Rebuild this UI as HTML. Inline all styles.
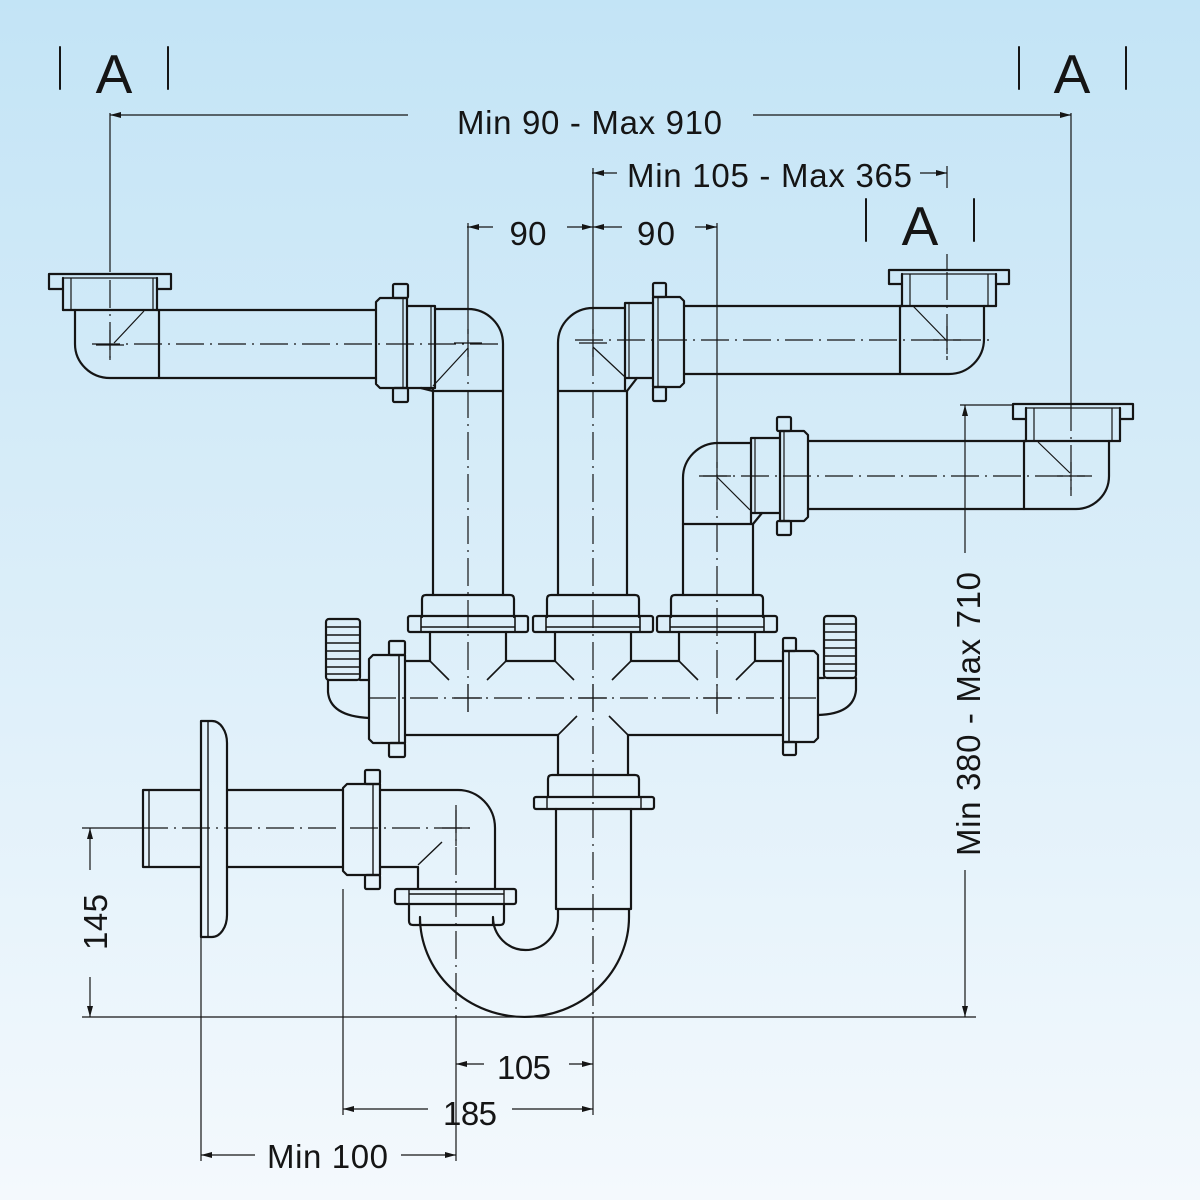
<!DOCTYPE html>
<html>
<head>
<meta charset="utf-8">
<style>
  html,body{margin:0;padding:0;width:1200px;height:1200px;overflow:hidden;}
  svg{display:block;}
  .o{fill:none;stroke:#151515;stroke-width:2.2;stroke-linejoin:round;stroke-linecap:round;}
  .t{fill:none;stroke:#151515;stroke-width:1.2;stroke-linecap:butt;}
  .c{fill:none;stroke:#151515;stroke-width:1.2;stroke-dasharray:28 6 2 6;}
  .a{fill:#151515;stroke:none;}
  text{font-family:"Liberation Sans",Arial,sans-serif;fill:#151515;}
</style>
</head>
<body>
<svg width="1200" height="1200" viewBox="0 0 1200 1200" xmlns="http://www.w3.org/2000/svg">
  <defs>
    <linearGradient id="bg" x1="0" y1="0" x2="0" y2="1">
      <stop offset="0" stop-color="#c3e4f6"/>
      <stop offset="0.5" stop-color="#dbeef9"/>
      <stop offset="1" stop-color="#f4f9fd"/>
    </linearGradient>
  </defs>
  <rect x="0" y="0" width="1200" height="1200" fill="url(#bg)"/>

  <!-- ===== Section markers A ===== -->
  <g class="o" style="stroke-width:2">
    <line x1="60" y1="47" x2="60" y2="89"/>
    <line x1="168" y1="47" x2="168" y2="89"/>
    <line x1="1019" y1="47" x2="1019" y2="89"/>
    <line x1="1126" y1="47" x2="1126" y2="89"/>
    <line x1="866" y1="199" x2="866" y2="241"/>
    <line x1="974" y1="199" x2="974" y2="241"/>
  </g>
  <text x="114" y="93" font-size="55" text-anchor="middle">A</text>
  <text x="1072" y="93" font-size="55" text-anchor="middle">A</text>
  <text x="920" y="245" font-size="55" text-anchor="middle">A</text>

  <!-- ===== Top dimensions ===== -->
  <g class="t">
    <line x1="110" y1="115" x2="408" y2="115"/>
    <line x1="753" y1="115" x2="1071" y2="115"/>
    <line x1="110" y1="113" x2="110" y2="272"/>
    <line x1="1071" y1="113" x2="1071" y2="403"/>

    <line x1="592" y1="173" x2="617" y2="173"/>
    <line x1="920" y1="173" x2="947" y2="173"/>
    <line x1="947" y1="166" x2="947" y2="188"/>
    <line x1="947" y1="254" x2="947" y2="270"/>
    <line x1="593" y1="168" x2="593" y2="306"/>

    <line x1="467" y1="227" x2="493" y2="227"/>
    <line x1="567" y1="227" x2="622" y2="227"/>
    <line x1="695" y1="227" x2="717" y2="227"/>
    <line x1="468" y1="223" x2="468" y2="306"/>
    <line x1="717" y1="223" x2="717" y2="440"/>
  </g>
  <g class="a">
    <polygon points="110,115 121,112 121,118"/>
    <polygon points="1071,115 1060,112 1060,118"/>
    <polygon points="593,173 604,170 604,176"/>
    <polygon points="947,173 936,170 936,176"/>
    <polygon points="468,227 479,224 479,230"/>
    <polygon points="593,227 582,224 582,230"/>
    <polygon points="593,227 604,224 604,230"/>
    <polygon points="717,227 706,224 706,230"/>
  </g>
  <text x="589.5" y="134" font-size="33" text-anchor="middle" textLength="265" lengthAdjust="spacing">Min 90 - Max 910</text>
  <text x="769.5" y="187" font-size="33" text-anchor="middle" textLength="285" lengthAdjust="spacing">Min 105 - Max 365</text>
  <text x="528" y="245" font-size="33" text-anchor="middle" textLength="37" lengthAdjust="spacing">90</text>
  <text x="656" y="245" font-size="33" text-anchor="middle" textLength="38" lengthAdjust="spacing">90</text>

  <!-- ===== Upper-left basin branch ===== -->
  <g class="o">
    <path d="M63,289 H49 V274 H171 V289 H157"/>
    <path d="M63,278 V310 M157,278 V310"/>
    <path d="M63,310 H157"/>
    <path d="M75,310 V344 A35,34 0 0 0 110,378 H376"/>
    <path d="M157,310 H376"/>
    <path d="M159,310 V378"/>
    <!-- nut -->
    <path d="M380,298 H407 V388 H380 L376,384 V302 Z"/>
    <rect x="393" y="284" width="15" height="14" rx="1.5"/>
    <rect x="393" y="388" width="15" height="14" rx="1.5"/>
    <!-- socket -->
    <path d="M407,306 H435 V388 H407"/>
    <path d="M421,388 L433,391"/>
    <!-- elbow -->
    <path d="M435,309 H468 A35,35 0 0 1 503,344 V595"/>
    <path d="M433,388 V595"/>
    <path d="M433,391 H503"/>
  </g>
  <g class="t">
    <path d="M63,278 H157 M71,278 V310 M153,278 V310"/>
    <path d="M114,343 L144,311"/>
    <path d="M403,298 V388"/>
    <path d="M431,306 V388"/>
    <path d="M433,386 L468,348"/>
  </g>

  <!-- ===== Upper-right basin branch ===== -->
  <g class="o">
    <path d="M902,284 H889 V270 H1009 V284 H996"/>
    <path d="M902,274 V306 M996,274 V306"/>
    <path d="M900,306 H996"/>
    <path d="M984,306 V339 A35,35 0 0 1 949,374 H684"/>
    <path d="M684,306 H902"/>
    <path d="M900,306 V374"/>
    <!-- nut -->
    <path d="M653,297 H680 L684,301 V383 L680,387 H653 Z"/>
    <rect x="653" y="283" width="13" height="14" rx="1.5"/>
    <rect x="653" y="387" width="13" height="14" rx="1.5"/>
    <!-- socket -->
    <path d="M653,303 H625 V391 M625,378 H653"/>
    <path d="M627,391 L637,378"/>
    <!-- elbow -->
    <path d="M627,391 H558 V343 A35,35 0 0 1 593,308 H625"/>
    <path d="M558,391 V595 M627,391 V595"/>
  </g>
  <g class="t">
    <path d="M902,274 H996 M910,274 V306 M988,274 V306"/>
    <path d="M913,306 L946,340"/>
    <path d="M658,297 V387"/>
    <path d="M629,303 V378"/>
    <path d="M593,347 L625,377"/>
  </g>

  <!-- ===== Lower-right basin branch ===== -->
  <g class="o">
    <path d="M1026,419 H1013 V404 H1133 V419 H1120"/>
    <path d="M1026,408 V441 M1120,408 V441"/>
    <path d="M1024,441 H1120"/>
    <path d="M1109,441 V476 A33,33 0 0 1 1076,509 H808"/>
    <path d="M808,441 H1026"/>
    <path d="M1024,441 V509"/>
    <!-- nut -->
    <path d="M780,431 H804 L808,435 V517 L804,521 H780 Z"/>
    <rect x="777" y="417" width="14" height="14" rx="1.5"/>
    <rect x="777" y="521" width="14" height="14" rx="1.5"/>
    <!-- socket -->
    <path d="M780,438 H751 V524 M751,513 H780"/>
    <path d="M753,524 L762,513"/>
    <!-- elbow -->
    <path d="M753,524 H683 V478 A35,35 0 0 1 718,443 H751"/>
    <path d="M683,524 V595 M753,524 V595"/>
  </g>
  <g class="t">
    <path d="M1026,408 H1120 M1034,408 V441 M1112,408 V441"/>
    <path d="M1038,442 L1070,473"/>
    <path d="M784,431 V521"/>
    <path d="M755,438 V513"/>
    <path d="M717,477 L750,510"/>
    <!-- 380-710 extension -->
    <line x1="960" y1="405" x2="1012" y2="405"/>
    <line x1="965" y1="405" x2="965" y2="553"/>
    <line x1="965" y1="870" x2="965" y2="1017"/>
  </g>
  <g class="a">
    <polygon points="965,405 962,416 968,416"/>
    <polygon points="965,1017 962,1006 968,1006"/>
  </g>
  <text transform="translate(980,714) rotate(-90)" x="0" y="0" font-size="33" text-anchor="middle" textLength="284" lengthAdjust="spacing">Min 380 - Max 710</text>

  <!-- ===== Manifold ===== -->
  <g class="o">
    <!-- couplings -->
    <path d="M422,617 V599 Q422,595 426,595 H510 Q514,595 514,599 V617"/>
    <rect x="408" y="616" width="120" height="16" rx="2"/>
    <path d="M547,617 V599 Q547,595 551,595 H635 Q639,595 639,599 V617"/>
    <rect x="533" y="616" width="120" height="16" rx="2"/>
    <path d="M671,617 V599 Q671,595 675,595 H759 Q763,595 763,599 V617"/>
    <rect x="657" y="616" width="120" height="16" rx="2"/>
    <!-- necks -->
    <path d="M430,632 V661 M506,632 V661 M555,632 V661 M631,632 V661 M679,632 V661 M755,632 V661"/>
    <path d="M405,661 H430 M506,661 H555 M631,661 H679 M755,661 H783"/>
    <path d="M405,735 H558 M628,735 H783"/>
    <path d="M558,735 V775 M628,735 V775"/>
    <!-- side nuts -->
    <path d="M373,655 H405 V743 H373 L369,739 V659 Z"/>
    <rect x="389" y="641" width="16" height="14" rx="1.5"/>
    <rect x="389" y="743" width="16" height="14" rx="1.5"/>
    <path d="M783,651 H814 L818,655 V738 L814,742 H783 Z"/>
    <rect x="783" y="638" width="13" height="13" rx="1.5"/>
    <rect x="783" y="742" width="13" height="13" rx="1.5"/>
    <!-- barbs -->
    <rect x="326" y="619" width="34" height="61" rx="3"/>
    <path d="M328,680 V692 Q330,716 369,718 M360,680 H369"/>
    <rect x="824" y="616" width="32" height="62" rx="3"/>
    <path d="M856,678 V690 Q854,714 818,715 M824,678 H818"/>
  </g>
  <g class="t" style="stroke-width:1.6">
    <path d="M421,616 V632 M515,616 V632 M421,627 H515"/>
    <path d="M546,616 V632 M640,616 V632 M546,627 H640"/>
    <path d="M670,616 V632 M764,616 V632 M670,627 H764"/>
    <path d="M430,661 L449,680 M506,661 L487,680 M555,661 L574,680 M631,661 L612,680 M679,661 L698,680 M755,661 L736,680"/>
    <path d="M558,735 L577,716 M628,735 L609,716"/>
    <path d="M399,655 V743 M789,651 V742"/>
    <path d="M326,627 H360 M326,635 H360 M326,643 H360 M326,651 H360 M326,659 H360 M326,667 H360 M326,674 H360"/>
    <path d="M824,624 H856 M824,632 H856 M824,640 H856 M824,648 H856 M824,656 H856 M824,664 H856 M824,671 H856"/>
  </g>

  <!-- ===== Trap ===== -->
  <g class="o">
    <path d="M548,797 V779 Q548,775 552,775 H635 Q639,775 639,779 V797"/>
    <rect x="534" y="797" width="120" height="12" rx="2"/>
    <path d="M556,809 V909 M631,809 V909 M556,909 H631"/>
    <path d="M629,909 V917 A104.5,100 0 0 1 420,917 V925"/>
    <path d="M558,909 V917 A32.5,33 0 0 1 493,917 V925"/>
    <!-- trap left coupling -->
    <rect x="395" y="889" width="121" height="15" rx="2"/>
    <path d="M409,904 V921 Q409,925 413,925 H500 Q504,925 504,921 V904"/>
    <!-- wall elbow -->
    <path d="M380,790 H458 A37,38 0 0 1 495,828 V889"/>
    <path d="M380,867 H418 V889"/>
    <!-- wall nut -->
    <path d="M347,784 H380 V875 H347 L343,871 V788 Z"/>
    <rect x="365" y="770" width="15" height="14" rx="1.5"/>
    <rect x="365" y="875" width="15" height="14" rx="1.5"/>
    <!-- wall pipe -->
    <path d="M201,790 H143 V867 H201 M227,790 H343 M227,867 H343"/>
    <!-- escutcheon -->
    <path d="M201,721 H212 A15,22 0 0 1 227,743 V915 A15,22 0 0 1 212,937 H201 Z"/>
  </g>
  <g class="t" style="stroke-width:1.4">
    <path d="M547,797 V809 M641,797 V809"/>
    <path d="M409,889 V904 M504,889 V904 M409,894 H504"/>
    <path d="M418,865 L442,842"/>
    <path d="M373,784 V875"/>
    <path d="M149,790 V867"/>
    <path d="M208,721 V937"/>
  </g>

  <!-- ===== Centre lines ===== -->
  <g class="c">
    <path d="M92,344 H500"/>
    <path d="M110,280 V364"/>
    <path d="M468,306 V714"/>
    <path d="M575,340 H990"/>
    <path d="M593,306 V1017"/>
    <path d="M947,272 V360"/>
    <path d="M717,440 V714"/>
    <path d="M699,476 H1092"/>
    <path d="M1071,403 V496"/>
    <path d="M368,698 H816"/>
    <path d="M140,828 H472"/>
    <path d="M456,805 V1017"/>
  </g>
  <g class="t">
    <!-- solid crosses at centres -->
    <path d="M96,345 H124 M110,330 V360"/>
    <path d="M454,343 H482 M468,329 V357"/>
    <path d="M579,343 H607 M593,329 V357"/>
    <path d="M933,340 H961 M947,326 V354"/>
    <path d="M703,476 H731 M717,462 V490"/>
    <path d="M1057,476 H1085 M1071,462 V490"/>
    <path d="M454,698 H482 M468,684 V712"/>
    <path d="M579,698 H607 M593,684 V712"/>
    <path d="M703,698 H731 M717,684 V712"/>
    <path d="M442,828 H470 M456,810 V846"/>
  </g>

  <!-- ===== Bottom / left dimensions ===== -->
  <g class="t">
    <line x1="82" y1="828" x2="140" y2="828"/>
    <line x1="90" y1="828" x2="90" y2="870"/>
    <line x1="90" y1="977" x2="90" y2="1017"/>
    <line x1="82" y1="1017" x2="976" y2="1017"/>

    <line x1="201" y1="937" x2="201" y2="1161"/>
    <line x1="343" y1="889" x2="343" y2="1115"/>
    <line x1="456" y1="1017" x2="456" y2="1161"/>
    <line x1="593" y1="1017" x2="593" y2="1115"/>

    <line x1="456" y1="1064" x2="484" y2="1064"/>
    <line x1="569" y1="1064" x2="593" y2="1064"/>
    <line x1="343" y1="1109" x2="428" y2="1109"/>
    <line x1="512" y1="1109" x2="593" y2="1109"/>
    <line x1="201" y1="1155" x2="255" y2="1155"/>
    <line x1="401" y1="1155" x2="456" y2="1155"/>
  </g>
  <g class="a">
    <polygon points="90,828 87,839 93,839"/>
    <polygon points="90,1017 87,1006 93,1006"/>
    <polygon points="456,1064 467,1061 467,1067"/>
    <polygon points="593,1064 582,1061 582,1067"/>
    <polygon points="343,1109 354,1106 354,1112"/>
    <polygon points="593,1109 582,1106 582,1112"/>
    <polygon points="201,1155 212,1152 212,1158"/>
    <polygon points="456,1155 445,1152 445,1158"/>
  </g>
  <text transform="translate(107,922) rotate(-90)" x="0" y="0" font-size="33" text-anchor="middle" textLength="56" lengthAdjust="spacing">145</text>
  <text x="524" y="1079" font-size="33" text-anchor="middle" textLength="54" lengthAdjust="spacing">105</text>
  <text x="470" y="1125" font-size="33" text-anchor="middle" textLength="54" lengthAdjust="spacing">185</text>
  <text x="327.5" y="1168" font-size="33" text-anchor="middle" textLength="121" lengthAdjust="spacing">Min 100</text>
</svg>
</body>
</html>
